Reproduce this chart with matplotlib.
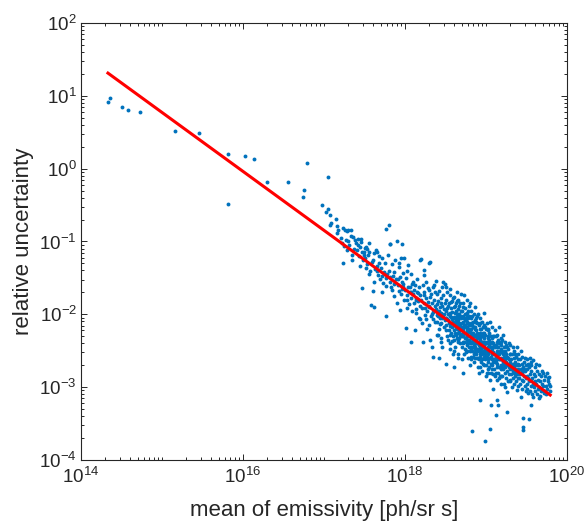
import numpy as np
import matplotlib
matplotlib.use('Agg')
import matplotlib.pyplot as plt
from matplotlib import ticker

# points are (log10 emissivity, log10 relative uncertainty)
sparse_pts = [
    (14.33, 0.91), (14.36, 0.97), (14.50, 0.84), (14.58, 0.80), (14.73, 0.78),
    (15.16, 0.52), (15.46, 0.49), (15.81, 0.20), (15.81, -0.48), (16.03, 0.18),
    (16.13, 0.13), (16.30, -0.18), (16.56, -0.18),
    (16.79, 0.08), (17.05, -0.11), (16.75, -0.30), (16.74, -0.39), (16.97, -0.50),
    (17.02, -0.59), (17.05, -0.55), (17.07, -0.64), (17.15, -0.69), (17.09, -0.75),
    (17.08, -0.77), (17.16, -0.79), (17.17, -0.84), (17.16, -0.89), (17.24, -0.82),
    (17.26, -0.84), (17.28, -0.85), (17.30, -0.84), (17.33, -0.84), (17.36, -0.94),
    (17.29, -1.00), (17.42, -0.97), (17.46, -1.01), (17.44, -1.08), (17.52, -1.07),
    (17.51, -1.09), (17.53, -1.10), (17.47, -1.15), (17.49, -1.14), (17.56, -1.14),
    (17.62, -1.16), (17.65, -1.14), (17.68, -1.20), (17.77, -0.83), (17.80, -0.78),
    (17.82, -1.03), (17.90, -1.00), (17.96, -1.04), (17.99, -1.23), (18.20, -1.24),
]

shoulder_pts = [
    (17.21, -0.95), (17.23, -1.30), (17.25, -1.06), (17.27, -0.98), (17.28, -1.12), (17.22, -1.02),
    (17.31, -1.05), (17.33, -0.92), (17.35, -1.18), (17.37, -1.10), (17.38, -0.98), (17.34, -1.25), (17.39, -1.02),
    (17.41, -1.12), (17.43, -1.20), (17.45, -1.33), (17.47, -1.64), (17.46, -0.96), (17.48, -1.26), (17.42, -1.05),
    (17.49, -1.18),
    (17.51, -1.22), (17.53, -1.31), (17.55, -1.02), (17.57, -1.40), (17.58, -1.87), (17.54, -1.19), (17.59, -1.28),
    (17.56, -1.45), (17.52, -1.36),
    (17.60, -1.68), (17.62, -1.90), (17.61, -1.25), (17.63, -1.38), (17.64, -1.12), (17.66, -1.33), (17.67, -1.46),
    (17.68, -1.29), (17.69, -1.52), (17.65, -1.41), (17.62, -1.55),
    (17.70, -1.36), (17.71, -1.48), (17.72, -1.22), (17.73, -1.57), (17.74, -1.42), (17.75, -1.30), (17.76, -1.61),
    (17.77, -2.02), (17.78, -1.45), (17.79, -1.18), (17.72, -1.70), (17.76, -1.50),
    (17.80, -1.40), (17.81, -1.03), (17.82, -1.55), (17.83, -1.62), (17.84, -1.31), (17.85, -1.47), (17.86, -1.75),
    (17.87, -1.58), (17.88, -1.26), (17.89, -1.51), (17.90, -1.85), (17.84, -1.66), (17.87, -1.42), (17.82, -1.49),
    (17.91, -1.60), (17.92, -1.35), (17.93, -1.68), (17.94, -1.49), (17.94, -1.94), (17.95, -1.72), (17.96, -1.55),
    (17.97, -1.43), (17.98, -1.63), (17.99, -1.80), (17.91, -1.52), (17.96, -1.65), (17.93, -1.29), (17.98, -1.58),
    (17.95, -1.22),
    (18.00, -1.67), (18.01, -2.19), (18.01, -1.50), (18.02, -1.74), (18.03, -1.80), (18.04, -1.32), (18.04, -1.62),
    (18.05, -1.86), (18.06, -1.70), (18.07, -1.45), (18.08, -2.38), (18.08, -1.78), (18.09, -1.58), (18.02, -1.91),
    (18.06, -1.63), (18.09, -1.95), (18.03, -1.41), (18.07, -1.69),
    (18.10, -1.72), (18.11, -1.84), (18.12, -2.22), (18.12, -1.60), (18.13, -1.77), (18.14, -1.93), (18.15, -1.51),
    (18.15, -1.69), (18.16, -1.82), (18.17, -2.05), (18.18, -1.74), (18.19, -2.06), (18.19, -1.26), (18.11, -1.66),
    (18.14, -1.80), (18.17, -1.62), (18.13, -1.98), (18.16, -1.71), (18.18, -1.88), (18.10, -1.55),
    (18.20, -1.80), (18.21, -1.92), (18.22, -2.38), (18.23, -1.39), (18.23, -1.46), (18.23, -1.70), (18.24, -1.85),
    (18.25, -2.01), (18.26, -1.55), (18.26, -1.78), (18.27, -1.95), (18.28, -1.64), (18.29, -1.30), (18.29, -1.67),
    (18.29, -1.88), (18.21, -2.12), (18.24, -1.74), (18.27, -2.20), (18.25, -1.91), (18.28, -1.83), (18.22, -1.60),
    (18.26, -2.06),
    (18.30, -1.90), (18.31, -1.28), (18.31, -1.76), (18.32, -2.02), (18.33, -2.45), (18.33, -1.85), (18.34, -1.63),
    (18.35, -2.58), (18.35, -1.97), (18.36, -1.80), (18.37, -2.10), (18.37, -1.70), (18.38, -1.54), (18.38, -1.93),
    (18.39, -2.28), (18.39, -1.86), (18.30, -2.14), (18.32, -1.72), (18.34, -2.06), (18.36, -1.60), (18.33, -1.99),
    (18.37, -1.88), (18.31, -2.35), (18.39, -2.01),
]

core_pts = [
    (18.40, -1.95), (18.40, -2.10), (18.41, -1.82), (18.41, -2.02), (18.42, -1.68), (18.42, -2.20), (18.43, -1.90),
    (18.43, -2.05), (18.44, -2.32), (18.44, -1.77), (18.45, -1.98), (18.45, -2.12), (18.46, -1.62), (18.46, -1.88),
    (18.46, -2.45), (18.47, -1.55), (18.47, -2.03), (18.48, -1.93), (18.48, -2.18), (18.49, -1.58), (18.49, -1.84),
    (18.49, -2.08), (18.40, -1.72), (18.41, -2.28), (18.42, -1.96), (18.43, -2.13), (18.44, -1.85), (18.45, -2.38),
    (18.47, -1.73), (18.48, -2.00), (18.44, -2.01), (18.46, -2.05), (18.42, -2.60),
    (18.50, -2.05), (18.50, -1.80), (18.51, -2.15), (18.51, -1.95), (18.52, -2.30), (18.52, -1.70), (18.53, -2.08),
    (18.53, -1.88), (18.54, -2.22), (18.54, -2.00), (18.55, -1.65), (18.55, -2.12), (18.56, -1.74), (18.56, -2.40),
    (18.57, -2.03), (18.57, -1.92), (18.58, -2.18), (18.58, -1.82), (18.59, -2.10), (18.59, -2.55), (18.50, -2.22),
    (18.51, -1.62), (18.52, -2.06), (18.53, -2.35), (18.54, -1.85), (18.55, -1.98), (18.56, -2.16), (18.57, -2.25),
    (18.58, -1.97), (18.59, -1.77), (18.50, -2.68), (18.52, -1.92), (18.54, -2.12), (18.56, -2.02), (18.58, -2.07),
    (18.53, -1.99), (18.55, -2.28), (18.57, -1.83), (18.59, -2.30), (18.51, -2.05), (18.55, -2.48), (18.58, -2.36),
    (18.60, -2.15), (18.60, -1.90), (18.60, -2.35), (18.61, -2.05), (18.61, -1.76), (18.61, -2.22), (18.62, -2.12),
    (18.62, -1.98), (18.62, -2.45), (18.63, -1.84), (18.63, -2.18), (18.63, -2.28), (18.64, -2.02), (18.64, -1.70),
    (18.64, -2.10), (18.65, -2.25), (18.65, -1.93), (18.65, -2.60), (18.66, -2.08), (18.66, -2.17), (18.66, -1.80),
    (18.67, -2.32), (18.67, -2.00), (18.67, -1.88), (18.68, -2.20), (18.68, -2.13), (18.68, -2.40), (18.69, -1.95),
    (18.69, -2.27), (18.69, -1.72), (18.60, -2.03), (18.61, -2.50), (18.62, -2.25), (18.63, -1.95), (18.64, -2.33),
    (18.65, -2.15), (18.66, -2.38), (18.67, -2.12), (18.68, -1.85), (18.69, -2.05), (18.60, -2.72), (18.62, -1.88),
    (18.64, -2.20), (18.66, -1.99), (18.68, -2.30), (18.63, -2.08), (18.65, -2.05), (18.67, -2.23), (18.69, -2.17),
    (18.61, -2.13), (18.66, -2.55), (18.64, -1.82), (18.62, -2.05), (18.68, -2.02), (18.65, -2.35),
    (18.70, -2.20), (18.70, -1.95), (18.70, -2.45), (18.71, -2.10), (18.71, -2.30), (18.71, -1.85), (18.72, -2.81),
    (18.72, -2.18), (18.72, -2.02), (18.73, -1.74), (18.73, -2.25), (18.73, -2.38), (18.74, -2.08), (18.74, -2.15),
    (18.74, -1.92), (18.75, -2.33), (18.75, -2.52), (18.75, -2.00), (18.76, -2.22), (18.76, -1.80), (18.76, -2.12),
    (18.77, -2.42), (18.77, -2.28), (18.77, -1.98), (18.78, -2.05), (18.78, -2.20), (18.78, -2.60), (18.79, -1.88),
    (18.79, -2.35), (18.79, -2.14), (18.70, -2.12), (18.71, -2.38), (18.72, -2.26), (18.73, -2.05), (18.74, -2.48),
    (18.75, -2.18), (18.76, -2.40), (18.77, -2.10), (18.78, -2.30), (18.79, -2.24), (18.70, -2.30), (18.72, -1.90),
    (18.74, -2.25), (18.76, -2.30), (18.78, -1.95), (18.71, -2.20), (18.73, -2.15), (18.75, -2.08), (18.77, -2.18),
    (18.79, -2.45), (18.70, -2.62), (18.73, -2.55), (18.76, -2.03), (18.78, -2.12), (18.72, -2.40), (18.74, -2.32),
    (18.77, -2.35), (18.75, -2.25), (18.71, -2.03), (18.79, -2.02), (18.74, -2.00), (18.76, -2.50),
    (18.80, -2.30), (18.80, -1.85), (18.80, -2.50), (18.81, -2.20), (18.81, -2.40), (18.81, -2.05), (18.82, -2.32),
    (18.82, -1.95), (18.82, -2.58), (18.83, -2.25), (18.83, -2.15), (18.83, -3.60), (18.84, -2.45), (18.84, -2.10),
    (18.84, -2.35), (18.85, -2.00), (18.85, -2.28), (18.85, -2.65), (18.86, -2.38), (18.86, -2.18), (18.86, -1.90),
    (18.87, -2.48), (18.87, -2.30), (18.87, -2.08), (18.88, -2.22), (18.88, -2.55), (18.88, -2.40), (18.89, -2.12),
    (18.89, -2.33), (18.89, -2.02), (18.80, -2.15), (18.81, -2.62), (18.82, -2.45), (18.83, -2.38), (18.84, -2.25),
    (18.85, -2.42), (18.86, -2.52), (18.87, -2.20), (18.88, -2.30), (18.89, -2.48), (18.80, -2.40), (18.81, -2.30),
    (18.82, -2.12), (18.83, -2.50), (18.84, -2.58), (18.85, -2.35), (18.86, -2.28), (18.87, -2.40), (18.88, -2.10),
    (18.89, -2.60), (18.80, -2.22), (18.82, -2.25), (18.84, -2.18), (18.86, -2.45), (18.88, -2.35), (18.81, -2.48),
    (18.83, -2.02), (18.85, -2.18), (18.87, -2.60), (18.89, -2.25), (18.80, -2.70), (18.84, -2.30), (18.86, -2.10),
    (18.88, -2.05), (18.82, -2.38), (18.85, -2.55), (18.87, -2.35), (18.83, -2.30), (18.89, -2.40),
    (18.90, -2.40), (18.90, -2.00), (18.90, -2.60), (18.91, -2.28), (18.91, -2.48), (18.91, -2.15), (18.92, -3.17),
    (18.92, -2.35), (18.92, -2.55), (18.93, -2.72), (18.93, -2.42), (18.93, -2.05), (18.94, -2.30), (18.94, -2.52),
    (18.94, -2.20), (18.95, -2.45), (18.95, -2.62), (18.95, -2.10), (18.96, -2.38), (18.96, -2.25), (18.96, -2.68),
    (18.97, -2.50), (18.97, -2.32), (18.97, -1.98), (18.98, -2.42), (18.98, -2.58), (18.98, -2.15), (18.99, -3.74),
    (18.99, -2.48), (18.99, -2.28), (18.90, -2.50), (18.91, -2.38), (18.92, -2.25), (18.93, -2.58), (18.94, -2.40),
    (18.95, -2.30), (18.96, -2.52), (18.97, -2.42), (18.98, -2.30), (18.99, -2.62), (18.90, -2.30), (18.91, -2.62),
    (18.92, -2.45), (18.93, -2.32), (18.94, -2.65), (18.95, -2.38), (18.96, -2.45), (18.97, -2.60), (18.98, -2.50),
    (18.99, -2.38), (18.90, -2.72), (18.92, -2.12), (18.94, -2.48), (18.96, -2.18), (18.98, -2.70), (18.91, -2.42),
    (18.93, -2.48), (18.95, -2.55), (18.97, -2.25), (18.99, -2.18), (18.91, -2.80), (18.95, -2.78), (18.93, -2.20),
    (18.97, -2.38), (18.99, -2.55),
    (19.00, -2.48), (19.00, -2.20), (19.00, -2.70), (19.01, -2.38), (19.01, -2.58), (19.01, -2.12), (19.02, -2.45),
    (19.02, -2.65), (19.02, -2.30), (19.03, -2.52), (19.03, -2.80), (19.03, -2.22), (19.04, -2.42), (19.04, -2.60),
    (19.04, -2.35), (19.05, -2.90), (19.05, -2.50), (19.05, -2.10), (19.05, -3.57), (19.06, -3.25), (19.06, -2.45),
    (19.06, -2.68), (19.07, -2.55), (19.07, -2.32), (19.07, -2.75), (19.08, -2.48), (19.08, -2.62), (19.08, -2.18),
    (19.09, -3.02), (19.09, -2.52), (19.09, -2.40), (19.00, -2.58), (19.01, -2.80), (19.02, -2.55), (19.03, -2.40),
    (19.04, -2.72), (19.06, -2.58), (19.07, -2.45), (19.08, -2.38), (19.09, -2.65), (19.00, -2.40), (19.02, -2.20),
    (19.04, -2.50), (19.06, -2.30), (19.08, -2.70), (19.01, -2.50), (19.03, -2.62), (19.05, -2.40), (19.07, -2.62),
    (19.09, -2.30), (19.00, -2.85), (19.03, -2.32), (19.06, -2.80), (19.08, -2.55), (19.02, -2.75), (19.05, -2.60),
    (19.09, -2.82), (19.04, -2.25),
    (19.10, -2.55), (19.10, -2.30), (19.10, -2.75), (19.11, -2.45), (19.11, -2.65), (19.11, -2.22), (19.12, -3.38),
    (19.12, -2.58), (19.12, -2.80), (19.13, -3.18), (19.13, -2.50), (19.13, -2.38), (19.14, -2.68), (19.14, -2.90),
    (19.14, -2.28), (19.15, -3.25), (19.15, -2.60), (19.15, -2.45), (19.16, -2.72), (19.16, -2.55), (19.16, -2.18),
    (19.17, -2.62), (19.17, -2.85), (19.17, -2.40), (19.18, -2.52), (19.18, -2.70), (19.18, -2.33), (19.19, -2.60),
    (19.19, -2.95), (19.19, -2.48), (19.10, -2.62), (19.11, -2.85), (19.12, -2.42), (19.13, -2.72), (19.14, -2.55),
    (19.15, -2.80), (19.16, -2.62), (19.17, -2.50), (19.18, -2.85), (19.19, -2.38), (19.10, -2.42), (19.12, -2.65),
    (19.14, -2.45), (19.16, -2.88), (19.18, -2.42), (19.11, -2.55), (19.13, -2.62), (19.15, -2.35), (19.17, -2.72),
    (19.19, -2.75), (19.12, -2.30), (19.16, -2.40), (19.18, -2.62),
]

tip_pts = [
    (19.20, -2.62), (19.20, -2.35), (19.20, -2.85), (19.21, -2.55), (19.21, -2.75), (19.21, -2.28), (19.22, -2.68),
    (19.22, -2.95), (19.22, -2.45), (19.23, -2.60), (19.23, -2.80), (19.23, -2.38), (19.24, -2.72), (19.24, -2.52),
    (19.24, -3.00), (19.25, -2.65), (19.25, -2.42), (19.25, -2.88), (19.26, -3.06), (19.26, -3.34), (19.26, -2.58),
    (19.26, -2.78), (19.27, -2.70), (19.27, -2.48), (19.27, -2.92), (19.28, -2.62), (19.28, -2.82), (19.28, -2.40),
    (19.29, -2.75), (19.29, -2.55), (19.20, -2.72), (19.22, -2.58), (19.24, -2.62), (19.26, -2.68), (19.28, -2.72),
    (19.21, -2.65), (19.23, -2.70), (19.25, -2.55), (19.27, -2.60), (19.29, -2.90), (19.20, -2.50), (19.23, -2.50),
    (19.26, -2.45), (19.29, -2.65),
    (19.30, -2.70), (19.30, -2.42), (19.30, -2.92), (19.31, -2.62), (19.31, -2.82), (19.32, -2.55), (19.32, -2.75),
    (19.32, -3.00), (19.33, -2.68), (19.33, -2.45), (19.34, -2.80), (19.34, -2.60), (19.35, -2.72), (19.35, -2.95),
    (19.35, -2.50), (19.36, -2.65), (19.36, -2.85), (19.37, -2.58), (19.37, -2.78), (19.38, -2.45), (19.38, -2.70),
    (19.38, -3.04), (19.39, -2.62), (19.39, -2.88), (19.31, -2.72), (19.33, -2.88), (19.34, -2.70), (19.36, -2.75),
    (19.37, -2.92), (19.39, -2.75), (19.30, -2.55), (19.33, -2.78), (19.36, -2.55), (19.38, -2.82),
    (19.40, -2.78), (19.40, -2.55), (19.40, -2.98), (19.41, -2.70), (19.41, -2.88), (19.42, -2.62), (19.42, -2.82),
    (19.43, -3.13), (19.43, -2.75), (19.43, -2.50), (19.44, -2.90), (19.44, -2.68), (19.45, -2.80), (19.45, -3.02),
    (19.45, -2.58), (19.46, -3.43), (19.46, -3.55), (19.46, -3.59), (19.46, -2.72), (19.46, -2.92), (19.47, -2.85),
    (19.47, -2.65), (19.48, -2.78), (19.48, -2.98), (19.49, -2.70), (19.49, -2.88), (19.41, -2.80), (19.42, -2.95),
    (19.44, -2.78), (19.47, -2.75), (19.48, -2.60), (19.49, -3.05), (19.40, -2.68),
    (19.50, -2.85), (19.50, -2.62), (19.51, -2.95), (19.51, -2.75), (19.52, -2.88), (19.52, -2.68), (19.53, -3.44),
    (19.53, -2.92), (19.53, -2.72), (19.54, -3.05), (19.54, -2.82), (19.55, -3.24), (19.55, -2.90), (19.55, -2.65),
    (19.56, -2.98), (19.56, -2.78), (19.57, -2.88), (19.57, -3.10), (19.58, -2.63), (19.58, -2.95), (19.58, -3.13),
    (19.59, -2.82), (19.59, -3.00), (19.52, -3.08), (19.56, -2.70), (19.50, -3.02), (19.54, -2.60),
    (19.60, -2.92), (19.60, -2.72), (19.61, -3.05), (19.61, -2.85), (19.62, -2.95), (19.63, -2.78), (19.63, -3.10),
    (19.64, -2.90), (19.64, -3.02), (19.65, -2.82), (19.66, -3.00), (19.66, -2.70), (19.67, -2.92), (19.67, -3.12),
    (19.68, -2.85), (19.68, -3.05), (19.69, -2.95), (19.69, -2.78), (19.62, -2.68), (19.65, -3.15),
    (19.70, -2.98), (19.70, -2.80), (19.71, -3.05), (19.72, -2.90), (19.72, -3.08), (19.73, -2.85), (19.74, -2.98),
    (19.75, -2.81), (19.75, -3.02), (19.76, -2.92), (19.77, -2.88), (19.78, -2.95), (19.79, -2.98), (19.79, -3.05),
    (19.78, -2.86), (19.74, -3.10),
]

# power-law fit drawn in red (end points)
fit_emis = [2.15e14, 6.2e19]
fit_unc = [20.5, 7.8e-4]

plt.rcParams['font.family'] = ['Liberation Sans', 'DejaVu Sans']
plt.rcParams['mathtext.fontset'] = 'custom'
plt.rcParams['mathtext.rm'] = 'Liberation Sans'
plt.rcParams['mathtext.it'] = 'Liberation Sans:italic'

pts = np.array(sparse_pts + shoulder_pts + core_pts + tip_pts)
emis = 10 ** pts[:, 0]
unc = 10 ** pts[:, 1]

fig = plt.figure(figsize=(5.88, 5.28), dpi=100)
ax = fig.add_axes([0.1378, 0.1288, 0.8265, 0.8277])

ax.plot(emis, unc, linestyle='none', marker='o', ms=2.8, mew=0, color='#0072BD')
ax.plot(fit_emis, fit_unc, color='red', lw=2.2)

ax.set_xscale('log')
ax.set_yscale('log')
ax.set_xlim(1e14, 1e20)
ax.set_ylim(1e-4, 1e2)

ax.xaxis.set_major_locator(ticker.FixedLocator([1e14, 1e16, 1e18, 1e20]))
ax.xaxis.set_minor_locator(ticker.LogLocator(base=10, subs=np.arange(1, 10), numticks=100))
ax.yaxis.set_major_locator(ticker.LogLocator(base=10, numticks=20))
ax.yaxis.set_minor_locator(ticker.LogLocator(base=10, subs=np.arange(2, 10), numticks=100))
ax.xaxis.set_major_formatter(ticker.LogFormatterSciNotation())
ax.yaxis.set_major_formatter(ticker.LogFormatterSciNotation())
ax.xaxis.set_minor_formatter(ticker.NullFormatter())
ax.yaxis.set_minor_formatter(ticker.NullFormatter())

dark = '#262626'
ax.tick_params(which='both', direction='in', top=True, right=True, color=dark,
               labelcolor=dark, width=0.7, labelsize=13.5)
ax.tick_params(which='major', length=4)
ax.tick_params(which='minor', length=2)
ax.tick_params(axis='x', pad=5)
ax.tick_params(axis='y', pad=3)
for s in ax.spines.values():
    s.set_color(dark)
    s.set_linewidth(0.8)

ax.set_xlabel('mean of emissivity [ph/sr s]', fontsize=16, color=dark, labelpad=9)
ax.set_ylabel('relative uncertainty', fontsize=16, color=dark, labelpad=4)

fig.savefig('out.png', dpi=100)
